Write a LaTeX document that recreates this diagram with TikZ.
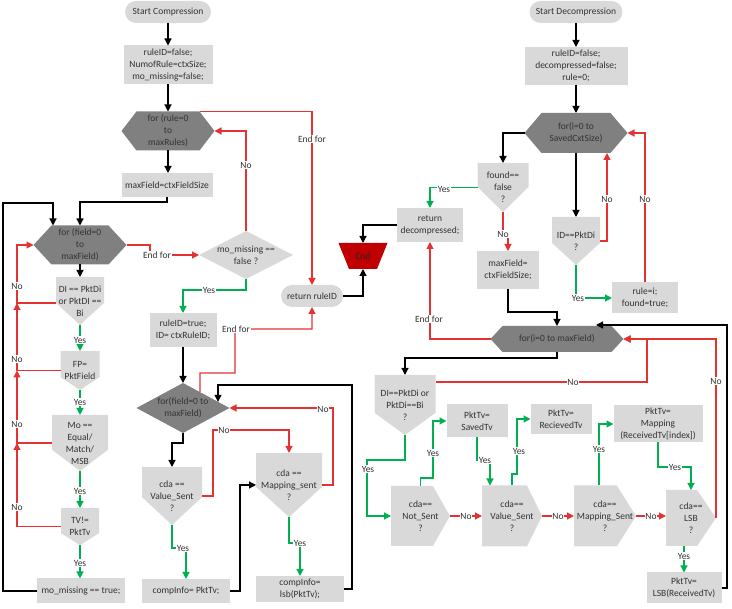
\documentclass[tikz,border=0pt]{standalone}
\usepackage{fontspec}
\setmainfont{Carlito}
\usetikzlibrary{calc,arrows.meta}
\definecolor{lg}{HTML}{D9D9D9}
\definecolor{dg}{HTML}{808080}
\definecolor{txt}{HTML}{333333}
\definecolor{rl}{RGB}{228,50,50}
\definecolor{gl}{RGB}{0,176,80}
\definecolor{endred}{HTML}{C00000}
\begin{document}
\begin{tikzpicture}[x=1pt,y=-1pt,
 base/.style={font=\fontsize{9.5}{12}\selectfont, text=txt, align=center, inner sep=0.3pt, outer sep=0pt},
 sz/.style 2 args={minimum width=#1pt, minimum height=#2pt},
 box/.style={base, rectangle, fill=lg},
 stad/.style={base, rectangle, fill=lg, rounded corners=11pt},
 hexa/.style={base, path picture={\fill[dg] ([xshift=#1]path picture bounding box.north west) -- ([xshift=-#1]path picture bounding box.north east) -- (path picture bounding box.east) -- ([xshift=-#1]path picture bounding box.south east) -- ([xshift=#1]path picture bounding box.south west) -- (path picture bounding box.west) -- cycle;}},
 diam/.style={base, path picture={\fill[#1] (path picture bounding box.north) -- (path picture bounding box.east) -- (path picture bounding box.south) -- (path picture bounding box.west) -- cycle;}},
 pentD/.style={base, path picture={\fill[lg] (path picture bounding box.north west) -- (path picture bounding box.north east) -- ($(path picture bounding box.north east)!#1!(path picture bounding box.south east)$) -- (path picture bounding box.south) -- ($(path picture bounding box.north west)!#1!(path picture bounding box.south west)$) -- cycle;}},
 pentR/.style={base, path picture={\fill[lg] (path picture bounding box.north west) -- ($(path picture bounding box.north west)!#1!(path picture bounding box.north east)$) -- (path picture bounding box.east) -- ($(path picture bounding box.south west)!#1!(path picture bounding box.south east)$) -- (path picture bounding box.south west) -- cycle;}},
 trap/.style={base, text=black!85, path picture={\fill[endred] (path picture bounding box.north west) -- (path picture bounding box.north east) -- ([xshift=-10.5pt]path picture bounding box.south east) -- ([xshift=10.5pt]path picture bounding box.south west) -- cycle;}},
 cblk/.style={draw=black, line width=1.2pt, -{Triangle[length=7pt,width=7pt]}},
 cred/.style={draw=rl, line width=1.2pt, -{Triangle[length=7pt,width=7pt]}},
 cgrn/.style={draw=gl, line width=1.2pt, -{Triangle[length=7pt,width=7pt]}},
 lbl/.style={base, fill=white, inner sep=0.8pt},
]
\useasboundingbox (0,0) rectangle (732,609);
% ---------- compression ----------
\node[stad, sz={86}{22}] (sc) at (168,12) {Start Compression};
\node[box, sz={89}{39}] (b1) at (168,65) {ruleID=false;\\NumofRule=ctxSize;\\mo\_missing=false;};
\node[hexa=15pt, sz={93}{39}] (h1) at (168,131) {for (rule=0\\to\\maxRules)};
\node[box, sz={91}{24}] (b2) at (167,185) {maxField=ctxFieldSize};
\node[hexa=18pt, sz={93}{39}] (h2) at (80,245) {for (field=0\\to\\maxField)};
\node[pentD=0.54, sz={48}{48}] (d1) at (80,301) {DI == PktDi\\or PktDI ==\\Bi};
\node[pentD=0.67, sz={39}{39}] (fp) at (80,370.5) {FP=\\PktField};
\node[pentD=0.62, sz={56}{56}] (mo) at (80,443) {Mo ==\\Equal/\\Match/\\MSB};
\node[pentD=0.68, sz={38}{37}] (tv) at (80,526.5) {TV!=\\PktTv};
\node[box, sz={88}{25}] (mm) at (81,591) {mo\_missing == true;};
\node[diam=lg, sz={94}{48}] (dm) at (246,255) {mo\_missing ==\\false ?};
\node[box, sz={67}{34}] (b3) at (183,330) {ruleID=true;\\ID= ctxRuleID;};
\node[stad, sz={62}{22}] (rr) at (312,296) {return ruleID};
\node[trap, sz={49}{26}] (en) at (363,256) {End};
\node[diam=dg, sz={93}{50}] (d2) at (183,408) {for(field=0 to\\maxField)};
\node[pentD=0.52, sz={60}{58}] (vs) at (172,496) {cda ==\\Value\_Sent\\?};
\node[pentD=0.53, sz={66}{64}] (ms) at (289,485) {cda ==\\Mapping\_sent\\?};
\node[box, sz={88}{24}] (c1) at (186,591) {compInfo= PktTv;};
\node[box, sz={88}{26}] (c2) at (300,589) {compInfo=\\lsb(PktTv);};
% ---------- decompression ----------
\node[stad, sz={93}{22}] (sd) at (576,12) {Start Decompression};
\node[box, sz={103}{38}] (b4) at (576,66) {ruleID=false;\\decompressed=false;\\rule=0;};
\node[hexa=17pt, sz={103}{40}] (h3) at (576,133) {for(i=0 to\\SavedCxtSize)};
\node[pentD=0.49, sz={51}{49}] (fd) at (503,187.5) {found==\\false\\?};
\node[box, sz={66}{34}] (rd) at (430,225) {return\\decompressed;};
\node[box, sz={62}{38}] (mf) at (508,270) {maxField=\\ctxFieldSize;};
\node[pentD=0.54, sz={48}{48}] (id) at (576,241) {ID==PktDi\\?};
\node[box, sz={66}{31}] (ri) at (645,298) {rule=i;\\found=true;};
\node[hexa=12pt, sz={133}{26}] (h4) at (557,339) {for(i=0 to maxField)};
\node[pentD=0.63, sz={61}{60}] (d3) at (405,405) {DI==PktDi or\\PktDi==Bi\\?};
\node[pentR=0.71, sz={59}{60}] (ns) at (420.5,516) {cda==\\Not\_Sent\\?};
\node[pentR=0.75, sz={60}{61}] (vd) at (512,516) {cda==\\Value\_Sent\\?};
\node[pentR=0.69, sz={62}{61}] (md) at (605,516) {cda==\\Mapping\_Sent\\?};
\node[pentR=0.62, sz={50}{56}] (ls) at (691,518) {cda==\\LSB\\?};
\node[box, sz={61}{33}] (st) at (477,421) {PktTv=\\SavedTv};
\node[box, sz={61}{30}] (rv) at (561,419) {PktTv=\\RecievedTv};
\node[box, sz={89}{37}] (mp) at (658,424) {PktTv=\\Mapping\\(ReceivedTv[index])};
\node[box, sz={75}{31}] (lb) at (684,588) {PktTv=\\LSB(ReceivedTv)};
% ---------- compression connectors ----------
\draw[cblk] (sc) -- (b1);
\draw[cblk] (b1) -- (h1);
\draw[cblk] (h1.south) -- (h1.south |- b2.north);
\draw[cblk] (b2.south) -- ++(0,5) -| (h2.north);
\draw[cblk] (mm.west) -| (3,203) -| ([xshift=-27pt]h2.north);
\draw[cblk] (h2) -- (d1);
\draw[cred] ([yshift=-2pt]d1.west) -- (17,303) |- (h2.west);
\draw[cred] (fp.west) -- (17,370.5) -- (17,303);
\draw[cred] (mo.west) -- (17,443) -- (17,370.5);
\draw[cred] (tv.west) -- (17,526.5) -- (17,443);
\draw[cgrn] (d1.south) -- (fp.north);
\draw[cgrn] (fp.south) -- (mo.north);
\draw[cgrn] (mo.south) -- (tv.north);
\draw[cgrn] (tv.south) -- (tv.south |- mm.north);
\draw[cred] (h2.east) -- (150,245) -- (150,255) -- (dm.west);
\draw[cred] (dm.north) |- (h1.east);
\draw[cred] ([xshift=-15pt]h1.north east) -| (rr.north);
\draw[cgrn] (dm.south) -- ++(0,11) -| (b3.north);
\draw[cblk] (b3) -- (d2);
\draw[cred] ($(d2.north)!0.366!(d2.east)$) -- (200,373) -- (235,373) -- (235,329) -| (rr.south);
\draw[cblk] (c2.east) -| (352,385) -| ($(d2.north)!0.753!(d2.east)$);
\draw[cred] (ms.east) -- (333,485) |- (d2.east);
\draw[cblk] (d2.south) -- ++(0,10) -| (vs.north);
\draw[cred] (vs.east) -- (213,496) -- (213,430) -| (ms.north);
\draw[cgrn] (vs.south) -- (172,548) -- (186,548) -- (c1.north);
\draw[cblk] (c1.east) -- (240,591) |- (ms.west);
\draw[cgrn] (ms.south) -- (289,543) -- (300,543) -- (c2.north);
\draw[cblk] (rr.east) -| (en.south);
% ---------- decompression connectors ----------
\draw[cblk] (sd) -- (b4);
\draw[cblk] (b4) -- (h3);
\draw[cblk] (h3.west) -| (fd.north);
\draw[cgrn] (fd.west) -| (rd.north);
\draw[cred] (fd.south) -- (503,234) -- (508,234) -- (mf.north);
\draw[cblk] (rd.west) -| (en.north);
\draw[cblk] (mf.south) -- (508,312) -| (h4.north);
\draw[cblk] (h3) -- (id);
\draw[cred] (id.east) -| ([xshift=31pt]h3.south);
\draw[cgrn] (id.south) |- (ri.west);
\draw[cred] (ri.north) |- (h3.east);
\draw[cred] (h4.west) -| (rd.south);
\draw[cblk] (h4.south) -- (557,358) -| (d3.north);
\draw[cred] ([yshift=23pt]d3.east) -- (647,382) |- (h4.east);
\draw[cred] (ls.east) -- (716,339) -- (h4.east);
\draw[cblk] (lb.east) -| (727,325) -- ([xshift=39pt,yshift=1pt]h4.north);
\draw[cgrn] (d3.south) -- (405,460) -- (367,460) |- (ns.west);
\draw[cred] (ns.east) -- (vd.west);
\draw[cred] (vd.east) -- (md.west);
\draw[cred] (md.east) -- (md.east -| ls.west);
\draw[cgrn] (ns.north) -- (420.5,478) -- (433,478) |- (st.west);
\draw[cgrn] (st.south) -- (477,460) -- (490,460) -- ([xshift=-22pt]vd.north);
\draw[cgrn] (vd.north) -- (512,474) -- (517,474) |- (rv.west);
\draw[cgrn] ([xshift=-6pt]md.north) |- (mp.west);
\draw[cgrn] (mp.south) -- (658,467) -| (ls.north);
\draw[cgrn] ([xshift=-7pt]ls.south) -- (lb.north);
% ---------- labels ----------
\node[lbl] (l1) at (312,139) {End for};
\node[lbl] (l2) at (246,165) {No};
\node[lbl] (l3) at (157,255) {End for};
\node[lbl] (l4) at (17,286) {No};
\node[lbl] (l5) at (17,359) {No};
\node[lbl] (l6) at (17,424) {No};
\node[lbl] (l7) at (17,507) {No};
\node[lbl] (l8) at (80,340) {Yes};
\node[lbl] (l9) at (80,402) {Yes};
\node[lbl] (l10) at (80,491) {Yes};
\node[lbl] (l11) at (80,563) {Yes};
\node[lbl] (l12) at (209,290) {Yes};
\node[lbl] (l13) at (236,329) {End for};
\node[lbl] (l14) at (323,409) {No};
\node[lbl] (l15) at (224,430) {No};
\node[lbl] (l16) at (183,548) {Yes};
\node[lbl] (l17) at (300,543) {Yes};
\node[lbl] (l18) at (444,189) {Yes};
\node[lbl] (l19) at (503,234) {No};
\node[lbl] (l20) at (607,199) {No};
\node[lbl] (l21) at (645,199) {No};
\node[lbl] (l22) at (578,298) {Yes};
\node[lbl] (l23) at (429,319) {End for};
\node[lbl] (l24) at (573,382) {No};
\node[lbl] (l25) at (716,381) {No};
\node[lbl] (l26) at (368,469) {Yes};
\node[lbl] (l27) at (466,516) {No};
\node[lbl] (l28) at (558,516) {No};
\node[lbl] (l29) at (651,516) {No};
\node[lbl] (l30) at (433,453) {Yes};
\node[lbl] (l31) at (485,460) {Yes};
\node[lbl] (l32) at (519,451) {Yes};
\node[lbl] (l33) at (599,449) {Yes};
\node[lbl] (l34) at (675,467) {Yes};
\node[lbl] (l35) at (684,556) {Yes};
\end{tikzpicture}
\end{document}
